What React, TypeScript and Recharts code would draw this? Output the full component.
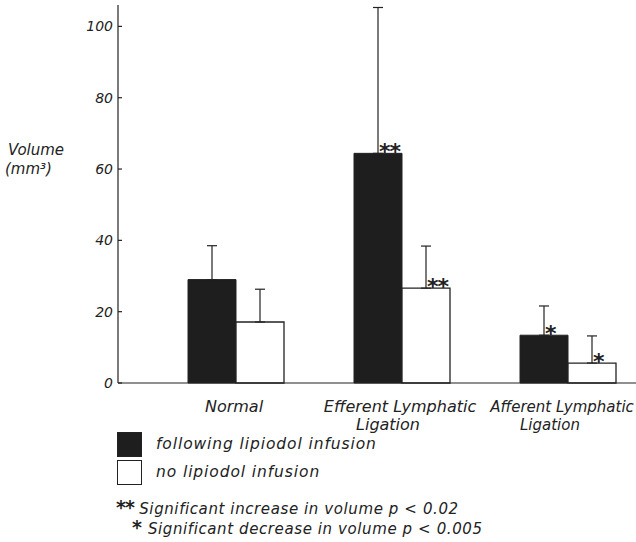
import React from 'react';
import { BarChart, Bar, XAxis, YAxis, ErrorBar, LabelList } from 'recharts';

const categoryLines = [['Normal'], ['Efferent Lymphatic', 'Ligation'], ['Afferent Lymphatic', 'Ligation']];
const lipiodol = [29, 64.4, 13.4];
const lipiodolErr = [9.5, 40.9, 8.2];
const lipiodolMarks = ['', '**', '*'];
const noLipiodol = [17.1, 26.6, 5.6];
const noLipiodolErr = [9.2, 11.8, 7.6];
const noLipiodolMarks = ['', '**', '*'];
const yTicks = [0, 20, 40, 60, 80, 100];

const data = categoryLines.map((lines, i) => ({
  name: lines.join(' '),
  lines,
  lip: lipiodol[i],
  lipErr: [0, lipiodolErr[i]],
  lipMark: lipiodolMarks[i],
  noLip: noLipiodol[i],
  noLipErr: [0, noLipiodolErr[i]],
  noLipMark: noLipiodolMarks[i],
}));

const ink = '#222';
const font = '"DejaVu Sans", sans-serif';

const YTick = (props: any) => {
  const { x, y, payload } = props;
  return (
    <g>
      <text x={x} y={y} dy={5} textAnchor="end" fontSize={14} fontStyle="italic" fontFamily={font} fill={ink}>
        {payload.value}
      </text>
      <line x1={x + 5} x2={x + 9} y1={y} y2={y} stroke={ink} strokeWidth={1.2} />
    </g>
  );
};

const XTick = (props: any) => {
  const { x, y, payload, index } = props;
  const lines = categoryLines[index] || [payload.value];
  // last label sits against the right edge, keep it inside the frame
  const last = index === categoryLines.length - 1;
  const cx = last ? x - 6 : x - 2;
  return (
    <text x={cx} y={y} textAnchor="middle" fontSize={last ? 15 : 16} fontStyle="italic" fontFamily={font} fill={ink}>
      {lines.map((l: string, i: number) => (
        <tspan key={i} x={i === 0 ? cx : cx - 12} dy={i === 0 ? 21 : 18}>{l}</tspan>
      ))}
    </text>
  );
};

const Mark = (props: any) => {
  const { x, y, width, value } = props;
  if (!value) return null;
  return (
    <text x={x + width / 2 + 1} y={y + 6} textAnchor="start" fontSize={22} fontWeight="bold" fontFamily={font} fill={ink} letterSpacing={-1}>
      {value}
    </text>
  );
};

export default function App() {
  return (
    <div style={{ position: 'absolute', left: 0, top: 0, width: 636, height: 542, overflow: 'hidden', background: '#fff' }}>
      <BarChart
        width={660}
        height={542}
        data={data}
        margin={{ top: 5, right: 9, bottom: 114, left: 0 }}
        barGap={0}
        barSize={48}
      >
        <XAxis
          dataKey="name"
          axisLine={{ stroke: ink, strokeWidth: 1.2 }}
          tickLine={false}
          tick={<XTick />}
          height={45}
          padding={{ left: 35, right: 0 }}
          interval={0}
        />
        <YAxis
          domain={[0, 106]}
          ticks={yTicks}
          width={118}
          axisLine={{ stroke: ink, strokeWidth: 1.2 }}
          tickLine={false}
          tickSize={0}
          tickMargin={5}
          tick={<YTick />}
          label={{
            content: () => (
              <text x={5} y={155} fontSize={15} fontStyle="italic" fontFamily={font} fill={ink}>
                <tspan x={8}>Volume</tspan>
                <tspan x={5} dy={19}>(mm³)</tspan>
              </text>
            ),
          }}
        />
        <Bar dataKey="lip" fill="#1e1e1e" stroke={ink} strokeWidth={1} isAnimationActive={false}>
          <ErrorBar dataKey="lipErr" width={5} stroke={ink} strokeWidth={1.2} isAnimationActive={false} />
          <LabelList dataKey="lipMark" content={<Mark />} />
        </Bar>
        <Bar dataKey="noLip" fill="#fff" stroke={ink} strokeWidth={1.3} isAnimationActive={false}>
          <ErrorBar dataKey="noLipErr" width={5} stroke={ink} strokeWidth={1.2} isAnimationActive={false} />
          <LabelList dataKey="noLipMark" content={<Mark />} />
        </Bar>
      </BarChart>

      <div style={{ position: 'absolute', left: 117, top: 431, fontFamily: font, fontStyle: 'italic', fontSize: 15.5, letterSpacing: 0.9, color: ink }}>
        <div style={{ display: 'flex', alignItems: 'center', height: 26 }}>
          <div style={{ width: 23, height: 23, background: '#1e1e1e', border: `1.5px solid ${ink}` }} />
          <span style={{ marginLeft: 14 }}>following lipiodol infusion</span>
        </div>
        <div style={{ display: 'flex', alignItems: 'center', height: 26, marginTop: 2 }}>
          <div style={{ width: 23, height: 23, background: '#fff', border: `1.5px solid ${ink}` }} />
          <span style={{ marginLeft: 14 }}>no lipiodol infusion</span>
        </div>
      </div>
      <div style={{ position: 'absolute', left: 116, top: 498, fontFamily: font, fontStyle: 'italic', fontSize: 15, letterSpacing: 0.6, color: ink, lineHeight: '18px' }}>
        <div><span style={{ fontStyle: 'normal', fontWeight: 'bold', fontSize: 19, letterSpacing: -1 }}>**</span> Significant increase in volume p &lt; 0.02</div>
        <div style={{ paddingLeft: 16 }}><span style={{ fontStyle: 'normal', fontWeight: 'bold', fontSize: 19 }}>*</span> Significant decrease in volume p &lt; 0.005</div>
      </div>
    </div>
  );
}
